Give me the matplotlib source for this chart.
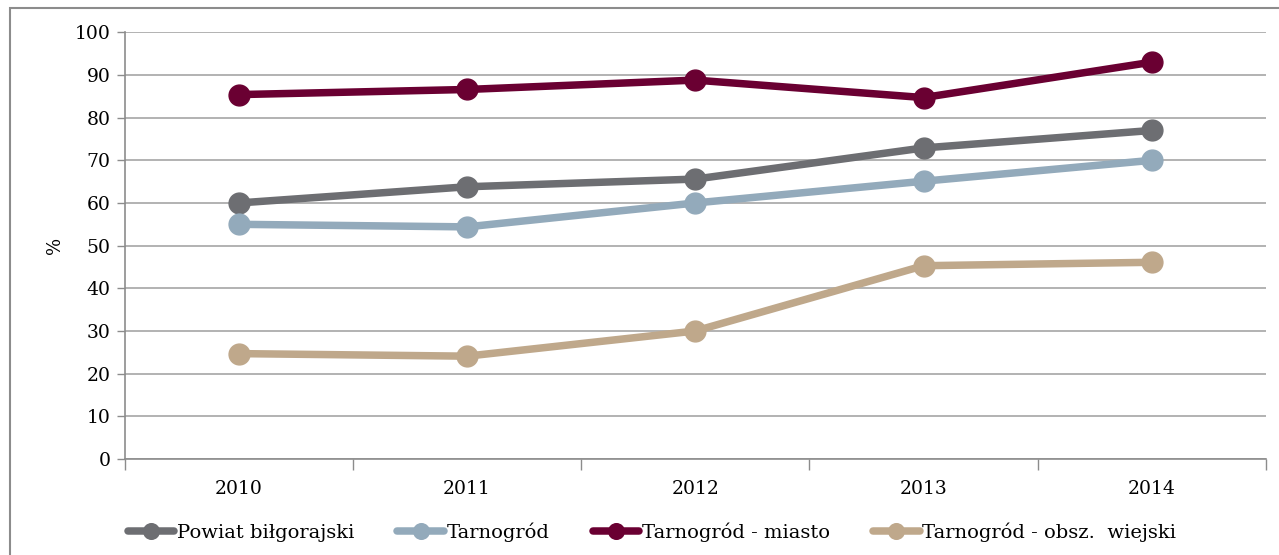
import matplotlib.pyplot as plt
from matplotlib.patches import Rectangle
from matplotlib.ticker import FixedLocator

plt.rcParams['font.family'] = ['DejaVu Serif']

years = ['2010', '2011', '2012', '2013', '2014']
powiat = [60.0, 63.8, 65.6, 72.9, 77.0]
tarnogrod = [55.0, 54.4, 60.0, 65.1, 70.0]
miasto = [85.4, 86.6, 88.8, 84.7, 93.0]
wiejski = [24.7, 24.1, 30.0, 45.3, 46.1]

series = [
    ('Powiat biłgorajski', powiat, '#6d6e72'),
    ('Tarnogród', tarnogrod, '#93aabb'),
    ('Tarnogród - miasto', miasto, '#6a0032'),
    ('Tarnogród - obsz.  wiejski', wiejski, '#bfa88b'),
]

fig = plt.figure(figsize=(12.79, 5.55), dpi=100)
ax = fig.add_axes([124.5 / 1279, 1 - 459 / 555, (1266 - 124.5) / 1279, (459 - 32.3) / 555])

# outer frame like the source document
fig.patches.append(Rectangle((10 / 1279, -0.05), 1.1, 1 - 8 / 555 + 0.05,
                             transform=fig.transFigure, fill=False,
                             edgecolor='#8c8c8c', linewidth=1.5))

x = list(range(len(years)))
for label, vals, color in series:
    ax.plot(x, vals, color=color, linewidth=5.4, marker='o', markersize=15,
            label=label, solid_capstyle='round')

ax.set_xlim(-0.5, len(years) - 0.5)
ax.set_ylim(0, 100)
ax.set_yticks(range(0, 101, 10))
ax.set_xticks(x)
ax.set_xticklabels(years)
ax.xaxis.set_minor_locator(FixedLocator([i - 0.5 for i in range(len(years) + 1)]))
ax.tick_params(axis='x', which='major', length=0, pad=15, labelsize=13.5)
ax.tick_params(axis='x', which='minor', length=8, color='#8c8c8c', width=1)
ax.tick_params(axis='y', length=6, color='#8c8c8c', width=1, labelsize=13.5, pad=4)

ax.grid(axis='y', color='#a6a6a6', linewidth=1.2)
ax.set_axisbelow(True)
for side in ['top', 'right']:
    ax.spines[side].set_visible(False)
for side in ['left', 'bottom']:
    ax.spines[side].set_color('#8c8c8c')
    ax.spines[side].set_linewidth(1.2)

ax.set_ylabel('%', fontsize=13, labelpad=8)

fig.legend(loc='center', bbox_to_anchor=(652 / 1279, 1 - 532 / 555), ncol=4, frameon=False,
           fontsize=14, handlelength=2.4, handletextpad=0.15, columnspacing=2.2,
           markerscale=0.75)

fig.savefig('out.png', dpi=100, facecolor='white')
